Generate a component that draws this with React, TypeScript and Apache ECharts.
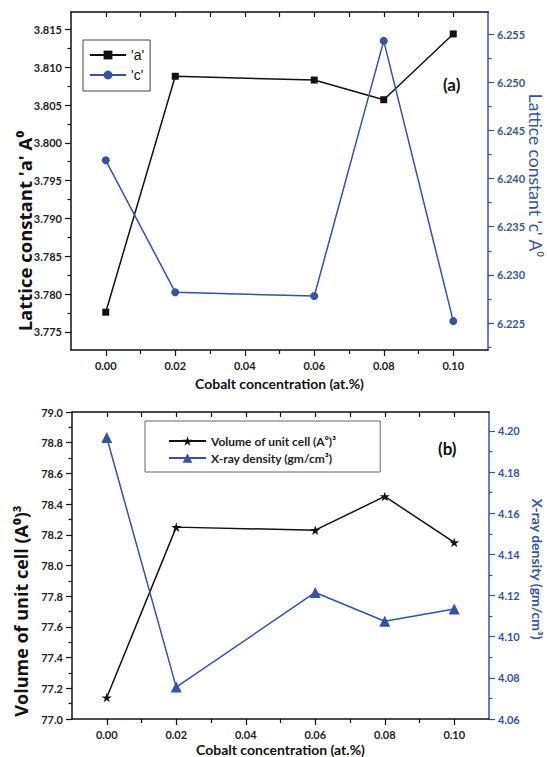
import React, { useEffect, useRef } from "react";
import * as echarts from "echarts";

const X_VALUES = [0, 0.02, 0.06, 0.08, 0.1];
const LATTICE_A = [3.7776, 3.8088, 3.8083, 3.8057, 3.8144];
const LATTICE_C = [6.2419, 6.2282, 6.2278, 6.2543, 6.2252];
const VOLUME = [77.14, 78.25, 78.23, 78.45, 78.15];
const DENSITY = [4.1968, 4.0755, 4.1215, 4.1075, 4.1135];

const X_TICKS = [0, 0.02, 0.04, 0.06, 0.08, 0.1];
const X_MINOR = [0.01, 0.03, 0.05, 0.07, 0.09];
const A_TICKS = [3.775, 3.78, 3.785, 3.79, 3.795, 3.8, 3.805, 3.81, 3.815];
const A_MINOR = [3.7775, 3.7825, 3.7875, 3.7925, 3.7975, 3.8025, 3.8075, 3.8125];
const C_TICKS = [6.225, 6.23, 6.235, 6.24, 6.245, 6.25, 6.255];
const C_MINOR = [6.2225, 6.2275, 6.2325, 6.2375, 6.2425, 6.2475, 6.2525];
const V_TICKS = [77.0, 77.2, 77.4, 77.6, 77.8, 78.0, 78.2, 78.4, 78.6, 78.8, 79.0];
const V_MINOR = [77.1, 77.3, 77.5, 77.7, 77.9, 78.1, 78.3, 78.5, 78.7, 78.9];
const D_TICKS = [4.06, 4.08, 4.1, 4.12, 4.14, 4.16, 4.18, 4.2];
const D_MINOR = [4.07, 4.09, 4.11, 4.13, 4.15, 4.17, 4.19];

const BLUE = "#3352a8";
const BLACK = "#111111";
const FONT = "Lato";
const STAR =
  "path://M50,0 L61.2,34.5 L97.6,34.5 L68.2,55.9 L79.4,90.5 L50,69.1 L20.6,90.5 L31.8,55.9 L2.4,34.5 L38.8,34.5 Z";

function pairs(ys: number[]) {
  return X_VALUES.map((x, i) => [x, ys[i]]);
}

function xAxes(grid: number, nameGap: number) {
  return [
    {
      type: "value",
      gridIndex: grid,
      position: "bottom",
      min: -0.01,
      max: 0.11,
      name: "Cobalt concentration (at.%)",
      nameLocation: "middle",
      nameGap,
      nameTextStyle: { fontFamily: FONT, fontSize: 14, fontWeight: "bold", color: BLACK },
      axisLine: { show: true, onZero: false, lineStyle: { color: BLACK, width: 1.5 } },
      axisTick: { show: true, customValues: X_TICKS, length: 6, lineStyle: { color: BLACK, width: 1.2 } },
      axisLabel: {
        show: true,
        customValues: X_TICKS,
        formatter: (v: number) => v.toFixed(2),
        fontFamily: FONT,
        fontSize: 11,
        fontWeight: "bold",
        color: "#222",
        margin: 10,
      },
      splitLine: { show: false },
    },
    {
      type: "value",
      gridIndex: grid,
      position: "bottom",
      min: -0.01,
      max: 0.11,
      axisLine: { show: false, onZero: false },
      axisTick: { show: true, customValues: X_MINOR, length: 4, lineStyle: { color: BLACK, width: 1.2 } },
      axisLabel: { show: false },
      splitLine: { show: false },
    },
    {
      type: "value",
      gridIndex: grid,
      position: "top",
      min: -0.01,
      max: 0.11,
      axisLine: { show: true, onZero: false, lineStyle: { color: BLACK, width: 1.5 } },
      axisTick: {
        show: true,
        inside: true,
        customValues: [...X_TICKS, ...X_MINOR],
        length: 5,
        lineStyle: { color: BLACK, width: 1.2 },
      },
      axisLabel: { show: false },
      splitLine: { show: false },
    },
  ];
}

function yPair(
  grid: number,
  side: "left" | "right",
  min: number,
  max: number,
  major: number[],
  minor: number[],
  digits: number,
  color: string
) {
  return [
    {
      type: "value",
      gridIndex: grid,
      position: side,
      min,
      max,
      axisLine: { show: true, onZero: false, lineStyle: { color, width: 1.5 } },
      axisTick: { show: true, customValues: major, length: 6, lineStyle: { color, width: 1.2 } },
      axisLabel: {
        show: true,
        customValues: major,
        formatter: (v: number) => v.toFixed(digits),
        fontFamily: FONT,
        fontSize: 11,
        fontWeight: "bold",
        color: side === "left" ? "#222" : color,
        margin: 9,
      },
      splitLine: { show: false },
    },
    {
      type: "value",
      gridIndex: grid,
      position: side,
      min,
      max,
      axisLine: { show: false, onZero: false },
      axisTick: { show: true, customValues: minor, length: 3.5, lineStyle: { color, width: 1.2 } },
      axisLabel: { show: false },
      splitLine: { show: false },
    },
  ];
}

function title(text: string, x: number, y: number, rot: number, font: string, fill: string) {
  return {
    type: "text",
    x,
    y,
    rotation: rot,
    style: { text, font, fill, align: "center", verticalAlign: "middle" },
  };
}

export default function App() {
  const ref = useRef<HTMLDivElement>(null);

  useEffect(() => {
    if (!ref.current) return;
    const chart = echarts.init(ref.current, null, { renderer: "svg" });
    const option = {
      animation: false,
      backgroundColor: "#ffffff",
      grid: [
        { left: 71, right: 59, top: 12, height: 338 },
        { left: 72, right: 58, top: 412, height: 308 },
      ],
      xAxis: [...xAxes(0, 26), ...xAxes(1, 23)],
      yAxis: [
        ...yPair(0, "left", 3.7726, 3.8173, A_TICKS, A_MINOR, 3, BLACK),
        ...yPair(0, "right", 6.2222, 6.2573, C_TICKS, C_MINOR, 3, BLUE),
        ...yPair(1, "left", 77.0, 79.0, V_TICKS, V_MINOR, 1, BLACK),
        ...yPair(1, "right", 4.06, 4.2092, D_TICKS, D_MINOR, 2, BLUE),
      ],
      legend: [
        {
          left: 83,
          top: 40,
          orient: "vertical",
          data: ["'a'", "'c'"],
          padding: [8, 6, 9, 6],
          itemGap: 6,
          itemWidth: 36,
          itemHeight: 11,
          borderColor: "#444",
          borderWidth: 1,
          textStyle: { fontFamily: "Liberation Sans", fontSize: 14, color: BLACK },
        },
        {
          left: 145,
          top: 421,
          orient: "vertical",
          data: ["Volume of unit cell (A\u2070)\u00b3", "X-ray density (gm/cm\u00b3)"],
          padding: [14, 44, 8, 23],
          itemGap: 5,
          itemWidth: 37,
          itemHeight: 12,
          borderColor: "#666",
          borderWidth: 1,
          textStyle: { fontFamily: FONT, fontSize: 12, fontWeight: "bold", color: "#222" },
        },
      ],
      graphic: [
        title("Lattice constant 'a' A\u2070", 24, 231, Math.PI / 2, `bold 18.5px "Open Sans"`, BLACK),
        title("Lattice constant 'c' A\u2070", 535, 175.5, -Math.PI / 2, `17.5px ${FONT}`, BLUE),
        title("Volume of unit cell (A\u2070)\u00b3", 21, 611, Math.PI / 2, `bold 18px "Open Sans"`, BLACK),
        title("X-ray density (gm/cm\u00b3)", 537, 569, -Math.PI / 2, `bold 14px ${FONT}`, BLUE),
        {
          type: "text",
          left: 443,
          top: 76,
          style: { text: "(a)", font: `bold 17px ${FONT}`, fill: BLACK },
        },
        {
          type: "text",
          left: 438,
          top: 440,
          style: { text: "(b)", font: `bold 17px ${FONT}`, fill: BLACK },
        },
      ],
      series: [
        {
          name: "'a'",
          type: "line",
          xAxisIndex: 0,
          yAxisIndex: 0,
          data: pairs(LATTICE_A),
          symbol: "rect",
          symbolSize: 7,
          lineStyle: { color: BLACK, width: 1.5 },
          itemStyle: { color: BLACK },
        },
        {
          name: "'c'",
          type: "line",
          xAxisIndex: 0,
          yAxisIndex: 2,
          data: pairs(LATTICE_C),
          symbol: "circle",
          symbolSize: 8,
          lineStyle: { color: BLUE, width: 1.5 },
          itemStyle: { color: BLUE },
        },
        {
          name: "Volume of unit cell (A\u2070)\u00b3",
          type: "line",
          xAxisIndex: 3,
          yAxisIndex: 4,
          data: pairs(VOLUME),
          symbol: STAR,
          symbolKeepAspect: true,
          symbolSize: 10,
          lineStyle: { color: BLACK, width: 1.5 },
          itemStyle: { color: BLACK },
        },
        {
          name: "X-ray density (gm/cm\u00b3)",
          type: "line",
          xAxisIndex: 3,
          yAxisIndex: 6,
          data: pairs(DENSITY),
          symbol: "triangle",
          symbolSize: 11,
          lineStyle: { color: BLUE, width: 1.5 },
          itemStyle: { color: BLUE },
        },
      ],
    };
    chart.setOption(option as any);
    return () => chart.dispose();
  }, []);

  return (
    <div
      ref={ref}
      style={{ position: "absolute", left: 0, top: 0, width: 547, height: 757, background: "#fff" }}
    />
  );
}
